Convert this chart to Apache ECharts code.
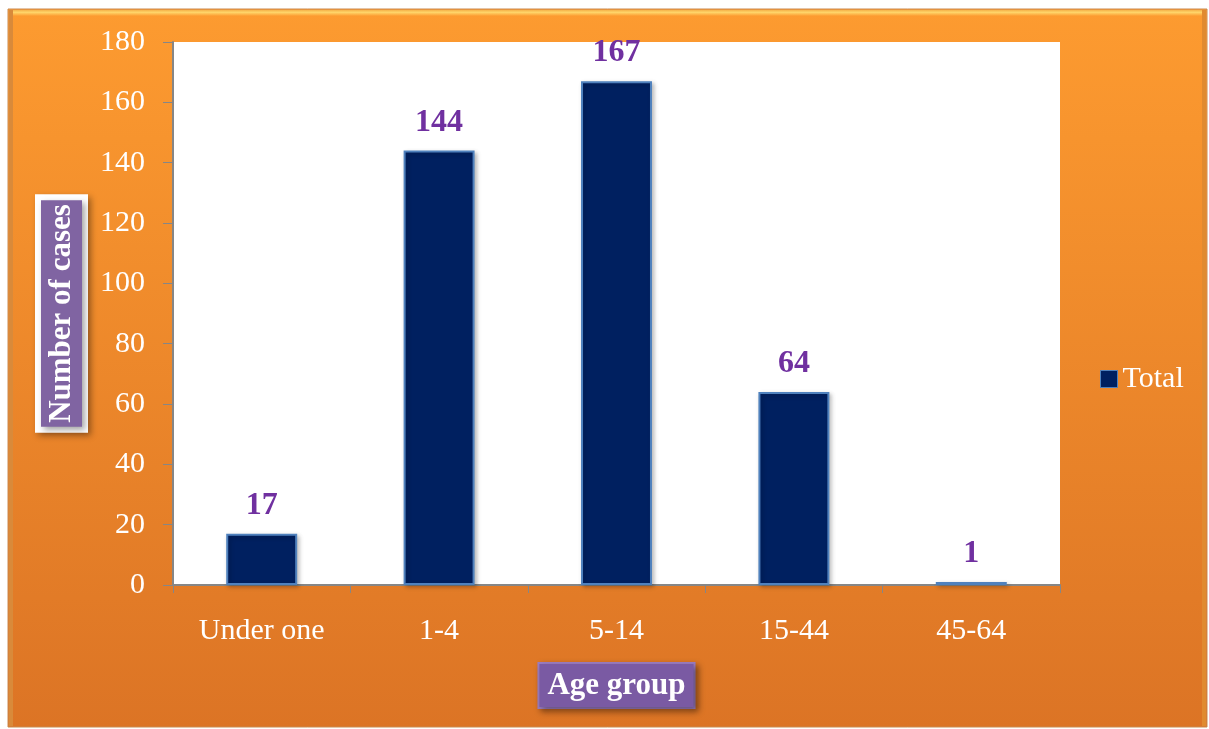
<!DOCTYPE html>
<html>
<head>
<meta charset="utf-8">
<script src="https://cdn.jsdelivr.net/npm/echarts@6/dist/echarts.min.js"></script>
<style>
  html, body { margin: 0; padding: 0; background: #ffffff; }
  #chart { width: 1209px; height: 729px; }
</style>
</head>
<body>
<div id="chart"></div>
<script>
// Cases by age group
const ageGroups = ['Under one', '1-4', '5-14', '15-44', '45-64'];
const totalCases = [17, 144, 167, 64, 1];
const yTicks = { min: 0, max: 180, interval: 20 };

const serif = '"Liberation Serif", "DejaVu Serif", serif';
const chart = echarts.init(document.getElementById('chart'));

chart.setOption({
  backgroundColor: '#ffffff',
  animation: false,
  graphic: [
    {
      type: 'rect', z: -10,
      shape: { x: 8, y: 9, width: 1199, height: 718 },
      style: {
        fill: new echarts.graphic.LinearGradient(0, 0, 0, 1, [
          { offset: 0, color: '#fd9b30' },
          { offset: 1, color: '#dc7425' }
        ]),
        stroke: '#c98a50', lineWidth: 1
      }
    },
    {
      type: 'rect', z: -9,
      shape: { x: 9, y: 10, width: 1197, height: 6 },
      style: {
        fill: new echarts.graphic.LinearGradient(0, 0, 0, 1, [
          { offset: 0, color: '#f5b24a' },
          { offset: 0.4, color: '#ffd56a' },
          { offset: 1, color: '#fd9b30' }
        ])
      }
    },
    {
      type: 'rect', z: -9,
      shape: { x: 9, y: 10, width: 4, height: 716 },
      style: { fill: '#d98a3a' }
    },
    {
      type: 'rect', z: -9,
      shape: { x: 1202, y: 10, width: 4, height: 716 },
      style: { fill: '#e08a30' }
    }
  ],
  grid: { left: 173, top: 42, width: 887, height: 543, backgroundColor: '#ffffff', show: true, borderWidth: 0 },
  legend: {
    left: 1095, top: 359,
    icon: 'rect',
    itemWidth: 17, itemHeight: 17, itemGap: 6,
    itemStyle: { borderColor: '#4f81bd', borderWidth: 1 },
    textStyle: { color: '#ffffff', fontFamily: serif, fontSize: 30, padding: [0, 0, 0, 0] },
    data: ['Total']
  },
  xAxis: {
    type: 'category',
    data: ageGroups,
    name: 'Age group',
    nameLocation: 'middle',
    nameGap: 79,
    nameTextStyle: {
      color: '#ffffff', fontFamily: serif, fontSize: 31, fontWeight: 'bold',
      backgroundColor: '#7a5aa3', borderColor: '#9a7cc0', borderWidth: 2,
      padding: [6, 8, 6, 8],
      shadowColor: 'rgba(0,0,0,0.35)', shadowBlur: 6, shadowOffsetX: 3, shadowOffsetY: 3
    },
    axisLine: { lineStyle: { color: '#868686', width: 2 } },
    axisTick: { show: true, length: 8, alignWithLabel: false, lineStyle: { color: '#868686' } },
    axisLabel: { color: '#ffffff', fontFamily: serif, fontSize: 30, margin: 31 }
  },
  yAxis: {
    type: 'value',
    min: yTicks.min, max: yTicks.max, interval: yTicks.interval,
    name: 'Number of cases',
    nameLocation: 'middle',
    nameRotate: 90,
    nameGap: 91,
    nameTextStyle: {
      color: '#ffffff', fontFamily: serif, fontSize: 31, fontWeight: 'bold',
      backgroundColor: '#8064a2', borderColor: '#ffffff', borderWidth: 6,
      padding: [5, 4, 5, 4],
      shadowColor: 'rgba(0,0,0,0.35)', shadowBlur: 6, shadowOffsetX: 3, shadowOffsetY: 3
    },
    axisLine: { show: true, lineStyle: { color: '#868686', width: 2 } },
    axisTick: { show: true, length: 10, lineStyle: { color: '#868686' } },
    axisLabel: { color: '#ffffff', fontFamily: serif, fontSize: 30, margin: 28 },
    splitLine: { show: false }
  },
  series: [{
    name: 'Total',
    type: 'bar',
    data: totalCases,
    barWidth: '40%',
    itemStyle: {
      color: '#002060', borderColor: '#4f81bd', borderWidth: 2,
      shadowColor: 'rgba(0,0,0,0.25)', shadowBlur: 4, shadowOffsetX: 2, shadowOffsetY: 2
    },
    label: {
      show: true, position: 'top', distance: 12,
      color: '#7030a0', fontFamily: serif, fontSize: 32, fontWeight: 'bold'
    }
  }]
});
</script>
</body>
</html>
